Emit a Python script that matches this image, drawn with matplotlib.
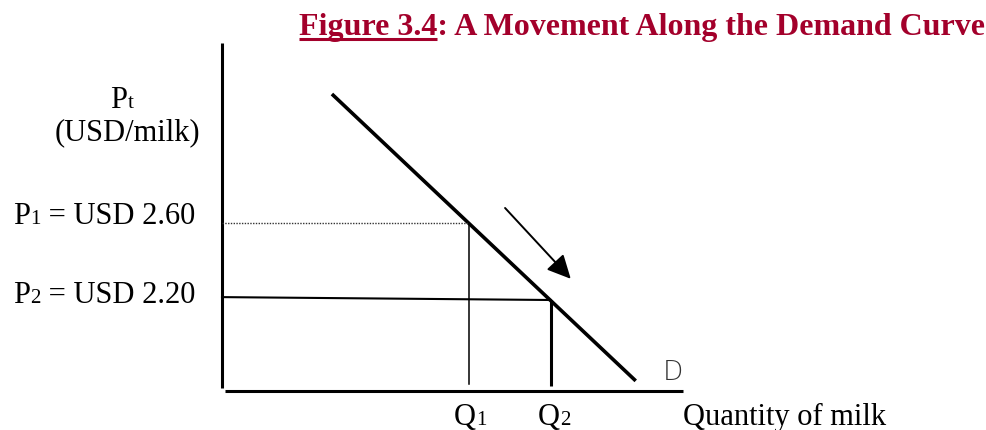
import matplotlib
matplotlib.use("Agg")
import matplotlib.pyplot as plt
from matplotlib.lines import Line2D
from matplotlib.transforms import Bbox, TransformedBbox, offset_copy

plt.rcParams['font.family'] = ['Liberation Serif', 'DejaVu Serif']

# prices (USD per milk) and quantities (arbitrary units)
P1, P2 = 2.60, 2.20
Q1, Q2 = 10.0, 13.3
demand_q = [4.45, 16.75]
demand_p = [3.27, 1.78]
p2_line_q = [0.0, Q2]
p2_line_p = [2.215, P2]
move_q = [11.46, 14.12]
move_p = [2.678, 2.31]

price_labels = [("P", "1", " = USD 2.60"), ("P", "2", " = USD 2.20")]
qty_labels = [("Q", "1", ""), ("Q", "2", "")]
title_main = "Figure 3.4"
title_rest = ": A Movement Along the Demand Curve"
red = "#A3002B"

fs = 22
fs_sub = 15

fig = plt.figure(figsize=(9.87, 4.31), dpi=100)
ax = fig.add_axes([0, 0, 1, 1])
ax.set_xlim(-8.988, 30.972)
ax.set_ylim(1.5247, 3.7636)
ax.axis('off')
renderer = fig.canvas.get_renderer()


def text_width(s, size):
    t = fig.text(0, 0, s, fontsize=size)
    w = t.get_window_extent(renderer).width
    t.remove()
    return w


def sub_label(x, y, base, sub, rest, ha='left'):
    # small index sitting on the baseline, like a word-processor subscript
    parts = [(base, fs), (sub, fs_sub), (rest, fs)]
    widths = [text_width(s, size) if s else 0 for s, size in parts]
    total = sum(widths)
    pos = {'left': 0, 'right': -total, 'center': -total / 2}[ha]
    for (s, size), w in zip(parts, widths):
        if s:
            tr = offset_copy(ax.transData, fig=fig, x=pos, y=0, units='dots')
            ax.text(x, y, s, fontsize=size, ha='left', va='baseline', transform=tr)
        pos += w


# axes of the diagram
ax.plot([0, 0], [1.743, 3.535], color='black', lw=2.2, solid_capstyle='butt')
ax.plot([0.12, 18.66], [1.727, 1.727], color='black', lw=2.2, solid_capstyle='butt')

# demand curve
ax.plot(demand_q, demand_p, color='black', lw=2.6, solid_capstyle='butt')

# guide lines for the two price/quantity pairs
ax.plot([0, Q1], [P1, P1], color='#333333', lw=1.0, linestyle=(0, (1, 1)))
ax.plot([Q1, Q1], [P1, 1.764], color='black', lw=1.1)
ax.plot(p2_line_q, p2_line_p, color='black', lw=1.5)
ax.plot([Q2, Q2], [P2, 1.753], color='black', lw=2.2, solid_capstyle='butt')

# movement arrow
ax.annotate("", xy=(move_q[1], move_p[1]), xytext=(move_q[0], move_p[0]),
            arrowprops=dict(arrowstyle='-|>,head_length=0.45,head_width=0.22',
                            color='black', lw=1.4, mutation_scale=32,
                            shrinkA=0, shrinkB=0))

sub_label(-4.05, 3.2026, "P", "t", "", ha='center')
ax.text(-3.81, 3.0364, "(USD/milk)", fontsize=fs, ha='center', va='baseline')
sub_label(-1.09, P1, *price_labels[0], ha='right')
sub_label(-1.09, 2.19, *price_labels[1], ha='right')
sub_label(Q1 + 0.05, 1.556, *qty_labels[0], ha='center')
sub_label(Q2 + 0.15, 1.556, *qty_labels[1], ha='center')
ax.text(18.66, 1.556, "Quantity of milk", fontsize=fs, ha='left', va='baseline')

# demand label, cut off at the bottom
d_lbl = ax.text(17.85, 1.79, "D", fontsize=19, ha='left', va='baseline',
                color='#333333', fontfamily='DejaVu Sans', fontweight='light')
d_lbl.set_clip_box(TransformedBbox(Bbox([[17, 1.82], [19, 2.0]]), ax.transData))

# title with underlined figure number
title = fig.text(985 / 987, 1 - 35 / 431, title_main + title_rest, fontsize=23,
                 fontweight='bold', color=red, ha='right', va='baseline')
probe = fig.text(0, 0, title_main, fontsize=23, fontweight='bold', alpha=0)
fig.canvas.draw()
tb = title.get_window_extent(renderer)
pw = probe.get_window_extent(renderer).width
W = fig.bbox.width
uy = 1 - 39.5 / 431
fig.add_artist(Line2D([tb.x0 / W, (tb.x0 + pw) / W], [uy, uy], color=red, lw=2.2,
                      solid_capstyle='butt', transform=fig.transFigure))
probe.remove()

fig.savefig("out.png", dpi=100)
